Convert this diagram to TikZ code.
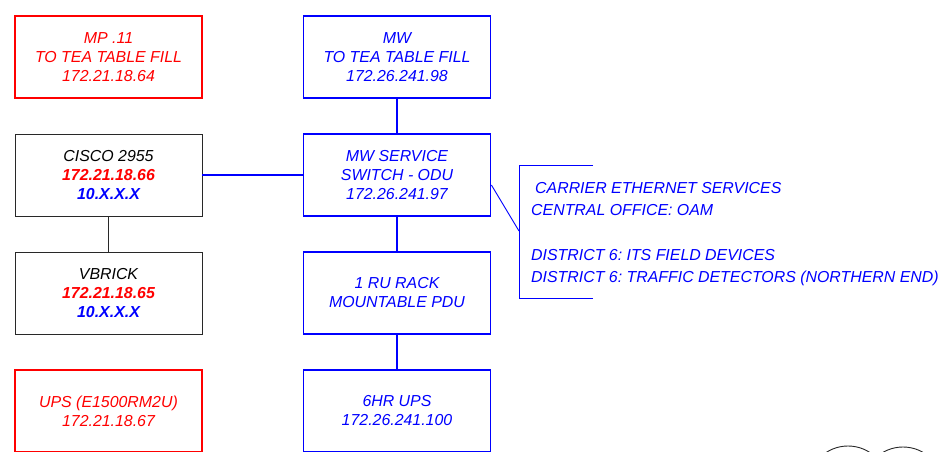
\documentclass[tikz,border=0pt]{standalone}
\usepackage{fontspec}
\setmainfont{Liberation Sans}
\frenchspacing
\definecolor{cblue}{RGB}{0,0,255}
\definecolor{cred}{RGB}{255,0,0}
\definecolor{cdark}{RGB}{40,40,40}
\begin{document}
\begin{tikzpicture}[x=1pt,y=-1pt,
  box/.style={draw, minimum width=187pt, minimum height=82pt, inner sep=0pt, align=center,
    font=\fontsize{15.9pt}{19pt}\selectfont\itshape},
  bluebox/.style={box, draw=cblue, line width=1.8pt, text=cblue},
  redbox/.style={box, draw=cred, line width=1.8pt, text=cred},
  darkbox/.style={box, draw=cdark, line width=0.9pt, text=black},
  blink/.style={draw=cblue, line width=1.8pt},
  dlink/.style={draw=cdark, line width=0.9pt},
  thinblue/.style={draw=cblue, line width=0.9pt},
  note/.style={anchor=base west, inner sep=0pt, text=cblue, font=\fontsize{15.9pt}{19pt}\selectfont\itshape},
  ring/.style={circle, draw=cdark, line width=0.9pt, minimum size=80pt, inner sep=0pt}]
\useasboundingbox (0,0) rectangle (946,452);

\node[redbox]  (mp)   at (108.5,57)  {MP .11\\TO TEA TABLE FILL\\172.21.18.64};
\node[bluebox] (mw)   at (397,57)    {MW\\TO TEA TABLE FILL\\172.26.241.98};
\node[darkbox] (cisco) at (108.5,175) {CISCO 2955\\{\color{cred}\bfseries 172.21.18.66}\\{\color{cblue}\bfseries 10.X.X.X}};
\node[bluebox] (sw)   at (397,175)   {MW SERVICE\\SWITCH - ODU\\172.26.241.97};
\node[darkbox] (vb)   at (108.5,293) {VBRICK\\{\color{cred}\bfseries 172.21.18.65}\\{\color{cblue}\bfseries 10.X.X.X}};
\node[bluebox] (pdu)  at (397,293)   {1 RU RACK\\MOUNTABLE PDU};
\node[redbox]  (ups)  at (108.5,411) {UPS (E1500RM2U)\\172.21.18.67};
\node[bluebox] (ups6) at (397,411)   {6HR UPS\\172.26.241.100};

\path[blink] (mw.south) -- (sw.north);
\path[blink] (sw.south) -- (pdu.north);
\path[blink] (pdu.south) -- (ups6.north);
\path[blink] (cisco.east) -- (sw.west);
\path[dlink] (cisco.south) -- (vb.north);

% bracket annotation
\coordinate (bt) at (593,165);
\coordinate (btl) at (519,165);
\coordinate (bbl) at (519,298);
\coordinate (bb) at (593,298);
\coordinate (bm) at (519,231);
\path[thinblue] (bt) -- (btl) -- (bbl) -- (bb);
\path[thinblue] (sw.east |- 0,185) coordinate (sa) -- (bm);

\node[note] (n1) at (535,193) {CARRIER ETHERNET SERVICES};
\node[note] (n2) at (531,215) {CENTRAL OFFICE: OAM};
\node[note] (n3) at (531,260) {DISTRICT 6: ITS FIELD DEVICES};
\node[note] (n4) at (531,282) {DISTRICT 6: TRAFFIC DETECTORS (NORTHERN END)};

\begin{scope}
\clip (0,0) rectangle (946,452);
\node[ring] (c1) at (848,486) {};
\node[ring] (c2) at (903,487) {};
\end{scope}
\end{tikzpicture}
\end{document}
